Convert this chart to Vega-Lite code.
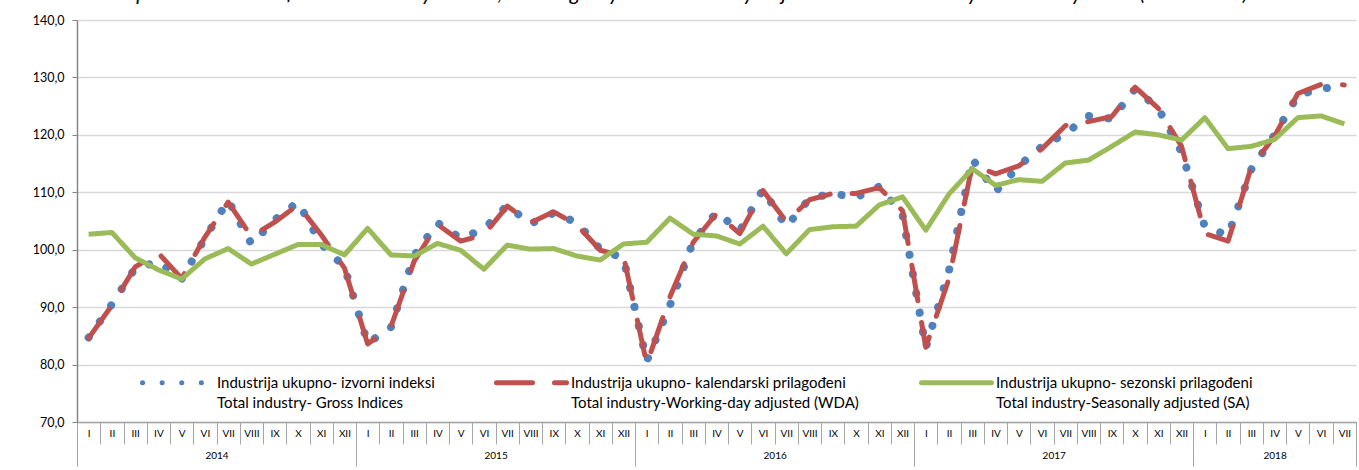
{
 "$schema": "https://vega.github.io/schema/vega-lite/v6.json",
 "width": 1279, "height": 402,
 "autosize": {"type": "none"},
 "padding": {"left": 77, "top": 20, "right": 3, "bottom": 48},
 "background": "white",
 "title": {"text": "Graph 1. Time series for total industry - Gross, Working-day and Seasonally Adjusted Indices. January 2014 - July 2018 (2015=100)", "fontStyle": "italic", "fontWeight": "normal", "fontSize": 21, "font": "Lato", "color": "#000000", "anchor": "middle", "dx": -40, "offset": 10},
 "config": {"view": {"stroke": null}, "font": "Lato",
  "legend": {"orient": "none", "legendX": 63, "legendY": 325, "direction": "horizontal",
    "symbolType": "stroke", "symbolSize": 4900, "symbolStrokeWidth": 5,
    "labelFontSize": 15, "labelFont": "Lato", "labelColor": "#000000", "labelOffset": 2,
    "columnPadding": 51, "labelLimit": 500, "padding": 0, "labelBaseline": "middle"}},
 "data": {"values": [
  {"m":0,"gross":84.7,"wda":84.6,"sa":102.7},
  {"m":1,"gross":90.5,"wda":90.3,"sa":103.0},
  {"m":2,"gross":96.8,"wda":97.0,"sa":98.6},
  {"m":3,"gross":97.9,"wda":99.4,"sa":96.5},
  {"m":4,"gross":94.9,"wda":95.0,"sa":94.9},
  {"m":5,"gross":102.0,"wda":102.2,"sa":98.4},
  {"m":6,"gross":108.6,"wda":108.3,"sa":100.2},
  {"m":7,"gross":101.0,"wda":102.3,"sa":97.5},
  {"m":8,"gross":105.2,"wda":104.8,"sa":99.2},
  {"m":9,"gross":108.3,"wda":107.8,"sa":100.9},
  {"m":10,"gross":101.0,"wda":102.6,"sa":100.9},
  {"m":11,"gross":97.0,"wda":96.8,"sa":99.1},
  {"m":12,"gross":83.7,"wda":83.6,"sa":103.7},
  {"m":13,"gross":86.5,"wda":86.6,"sa":99.1},
  {"m":14,"gross":99.0,"wda":98.0,"sa":98.9},
  {"m":15,"gross":104.7,"wda":104.4,"sa":101.1},
  {"m":16,"gross":102.0,"wda":101.5,"sa":99.9},
  {"m":17,"gross":103.6,"wda":102.6,"sa":96.6},
  {"m":18,"gross":107.7,"wda":107.6,"sa":100.8},
  {"m":19,"gross":104.5,"wda":104.7,"sa":100.1},
  {"m":20,"gross":106.4,"wda":106.6,"sa":100.2},
  {"m":21,"gross":104.7,"wda":104.3,"sa":98.9},
  {"m":22,"gross":100.1,"wda":99.9,"sa":98.2},
  {"m":23,"gross":98.5,"wda":98.9,"sa":101.0},
  {"m":24,"gross":80.6,"wda":80.1,"sa":101.3},
  {"m":25,"gross":90.3,"wda":91.8,"sa":105.5},
  {"m":26,"gross":101.5,"wda":101.3,"sa":102.7},
  {"m":27,"gross":106.5,"wda":106.3,"sa":102.4},
  {"m":28,"gross":103.3,"wda":102.8,"sa":101.0},
  {"m":29,"gross":110.5,"wda":110.3,"sa":104.1},
  {"m":30,"gross":104.0,"wda":104.9,"sa":99.3},
  {"m":31,"gross":108.9,"wda":108.7,"sa":103.5},
  {"m":32,"gross":109.8,"wda":109.8,"sa":104.0},
  {"m":33,"gross":109.1,"wda":109.8,"sa":104.1},
  {"m":34,"gross":111.0,"wda":110.8,"sa":107.8},
  {"m":35,"gross":106.1,"wda":106.8,"sa":109.2},
  {"m":36,"gross":82.9,"wda":83.0,"sa":103.4},
  {"m":37,"gross":96.4,"wda":95.0,"sa":109.7},
  {"m":38,"gross":115.8,"wda":114.8,"sa":114.1},
  {"m":39,"gross":110.1,"wda":113.2,"sa":111.2},
  {"m":40,"gross":114.6,"wda":114.6,"sa":112.2},
  {"m":41,"gross":118.0,"wda":117.6,"sa":111.9},
  {"m":42,"gross":120.2,"wda":121.6,"sa":115.1},
  {"m":43,"gross":123.3,"wda":122.3,"sa":115.6},
  {"m":44,"gross":122.8,"wda":123.2,"sa":118.0},
  {"m":45,"gross":128.0,"wda":128.3,"sa":120.5},
  {"m":46,"gross":124.6,"wda":124.6,"sa":120.0},
  {"m":47,"gross":117.0,"wda":118.0,"sa":119.1},
  {"m":48,"gross":104.0,"wda":102.8,"sa":123.0},
  {"m":49,"gross":102.5,"wda":101.5,"sa":117.6},
  {"m":50,"gross":114.0,"wda":114.4,"sa":118.0},
  {"m":51,"gross":120.0,"wda":119.8,"sa":119.2},
  {"m":52,"gross":126.9,"wda":127.2,"sa":123.0},
  {"m":53,"gross":128.1,"wda":128.8,"sa":123.3},
  {"m":54,"gross":128.3,"wda":128.7,"sa":121.9}
 ]},
 "transform": [{"fold": ["gross", "wda", "sa"], "as": ["s", "v"]}],
 "encoding": {
  "y": {"field": "v", "type": "quantitative",
   "scale": {"domain": [70, 140], "nice": false, "zero": false},
   "axis": {"title": null, "values": [70, 80, 90, 100, 110, 120, 130, 140],
    "labelExpr": "replace(format(datum.value, '.1f'), '.', ',')",
    "labelFontSize": 12.5, "labelColor": "#000000", "labelPadding": 8,
    "tickSize": 5, "tickColor": "#868686", "domainColor": "#868686", "domainWidth": 1.5,
    "grid": true, "gridColor": "#d9d9d9", "gridWidth": 1.5}},
  "color": {"field": "s", "type": "nominal",
   "scale": {"domain": ["gross", "wda", "sa"], "range": ["#4F81BD", "#C0504D", "#9BBB59"]},
   "legend": {"title": null,
    "labelExpr": "datum.label === 'gross' ? ['Industrija ukupno- izvorni indeksi', 'Total industry- Gross Indices'] : datum.label === 'wda' ? ['Industrija ukupno- kalendarski prilagođeni', 'Total industry-Working-day adjusted (WDA)'] : ['Industrija ukupno- sezonski prilagođeni', 'Total industry-Seasonally adjusted (SA)']",
    "encode": {"labels": {"update": {"lineHeight": {"value": 20}}}, "symbols": {"update": {"strokeCap": {"value": "round"}}}}}},
  "strokeDash": {"field": "s", "type": "nominal",
   "scale": {"domain": ["gross", "wda", "sa"], "range": [[0.1, 19.5], [36, 22], [1, 0]]},
   "legend": {"title": null,
    "labelExpr": "datum.label === 'gross' ? ['Industrija ukupno- izvorni indeksi', 'Total industry- Gross Indices'] : datum.label === 'wda' ? ['Industrija ukupno- kalendarski prilagođeni', 'Total industry-Working-day adjusted (WDA)'] : ['Industrija ukupno- sezonski prilagođeni', 'Total industry-Seasonally adjusted (SA)']",
    "encode": {"labels": {"update": {"lineHeight": {"value": 20}}}, "symbols": {"update": {"strokeCap": {"value": "round"}}}}}}
 },
 "layer": [
  {"transform": [{"filter": "datum.s === 'gross'"}],
   "mark": {"type": "line", "strokeWidth": 8, "strokeCap": "round", "strokeJoin": "round"},
   "encoding": {"x": {"field": "m", "type": "quantitative",
    "scale": {"domain": [-0.5, 54.5], "nice": false, "zero": false},
    "axis": {"orient": "bottom", "title": null, "grid": false,
     "values": [-0.5,0.5,1.5,2.5,3.5,4.5,5.5,6.5,7.5,8.5,9.5,10.5,11.5,12.5,13.5,14.5,15.5,16.5,17.5,18.5,19.5,20.5,21.5,22.5,23.5,24.5,25.5,26.5,27.5,28.5,29.5,30.5,31.5,32.5,33.5,34.5,35.5,36.5,37.5,38.5,39.5,40.5,41.5,42.5,43.5,44.5,45.5,46.5,47.5,48.5,49.5,50.5,51.5,52.5,53.5,54.5],
     "labelExpr": "datum.value > 54 ? '' : ['I','II','III','IV','V','VI','VII','VIII','IX','X','XI','XII'][(datum.value + 0.5) % 12]",
     "labelOffset": 11.63, "labelPadding": -11, "labelBaseline": "middle", "labelFontSize": 10, "labelColor": "#000000",
     "labelFlush": false, "labelOverlap": false, "labelBound": false,
     "tickSize": 22, "tickColor": "#a6a6a6", "tickWidth": 1, "domainColor": "#a6a6a6", "domainWidth": 1.5}}}},
  {"transform": [{"filter": "datum.s === 'wda'"}],
   "mark": {"type": "line", "strokeWidth": 5, "strokeCap": "round", "strokeJoin": "round"},
   "encoding": {"x": {"field": "m", "type": "quantitative",
    "scale": {"domain": [-0.5, 54.5], "nice": false, "zero": false},
    "axis": {"orient": "bottom", "title": null, "grid": false, "domain": false, "labels": false,
     "values": [-0.5, 11.5, 23.5, 35.5, 47.5, 54.5],
     "tickSize": 44, "tickColor": "#a6a6a6", "tickWidth": 1}}}},
  {"transform": [{"filter": "datum.s === 'sa'"}],
   "mark": {"type": "line", "strokeWidth": 5, "strokeJoin": "round"},
   "encoding": {"x": {"field": "m", "type": "quantitative",
    "scale": {"domain": [-0.5, 54.5], "nice": false, "zero": false},
    "axis": {"orient": "bottom", "title": null, "grid": false, "domain": false, "ticks": false,
     "values": [5.5, 17.5, 29.5, 41.5, 51],
     "labelExpr": "'' + (2014 + floor(datum.value / 12))",
     "labelPadding": 33, "labelBaseline": "middle", "labelFontSize": 10, "labelColor": "#000000",
     "labelFlush": false, "labelOverlap": false, "labelBound": false}}}}
 ],
 "resolve": {"axis": {"x": "independent"}}
}
